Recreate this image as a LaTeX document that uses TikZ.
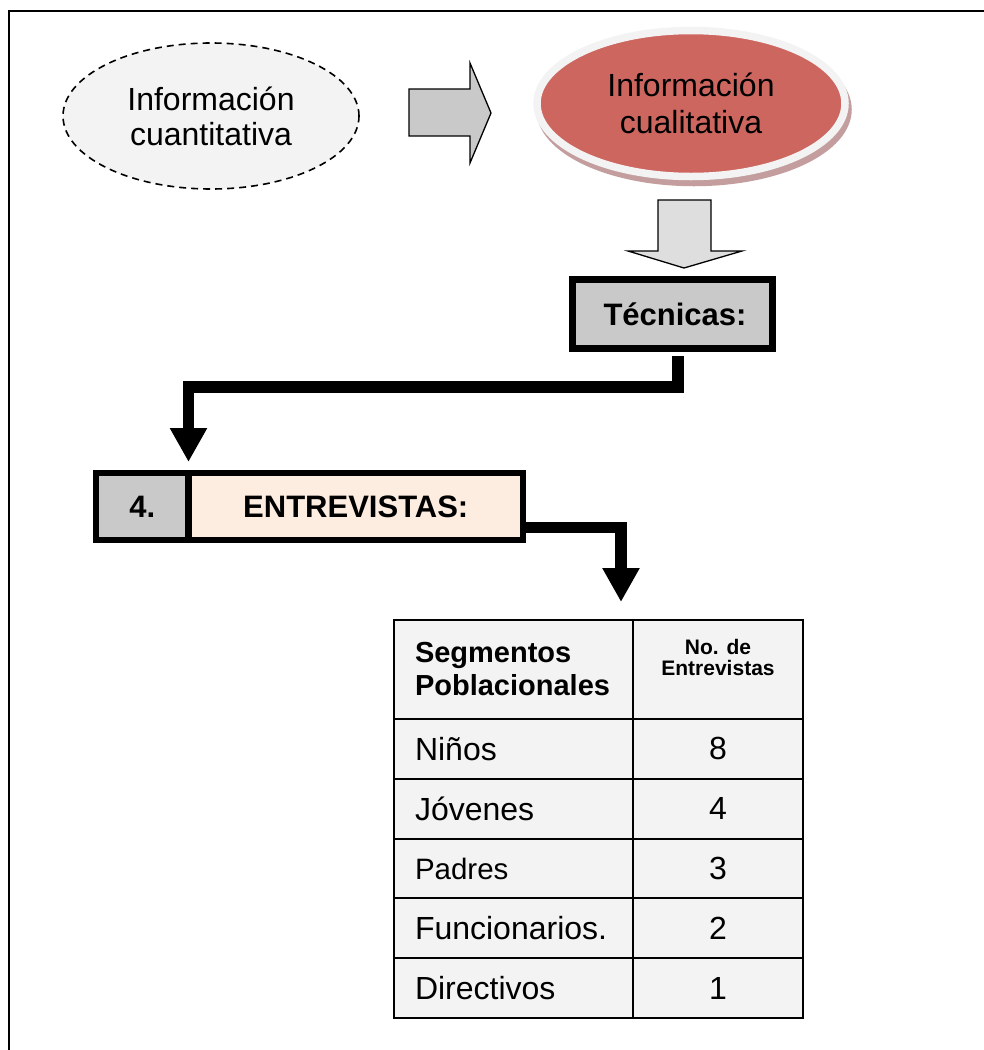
\documentclass[tikz,border=0pt]{standalone}
\usepackage{fontspec}
\setmainfont{Liberation Sans}
\usetikzlibrary{shapes.geometric}
\usetikzlibrary{arrows.meta}
\usetikzlibrary{shadows}
\usetikzlibrary{positioning}

\definecolor{cellgray}{RGB}{201,201,201}
\definecolor{peach}{RGB}{253,237,225}
\definecolor{rosa}{RGB}{205,102,95}
\definecolor{rosashadow}{RGB}{196,158,158}
\definecolor{pale}{RGB}{243,243,243}
\definecolor{arrowgray}{RGB}{222,222,222}

\begin{document}
\begin{tikzpicture}[x=1pt,y=-1pt, every node/.style={outer sep=0pt},
  techbox/.style={draw, line width=#1, inner sep=0pt},
  tcell/.style={draw, line width=2pt, fill=pale, inner sep=0pt},
  lcell/.style={tcell, minimum width=239pt, minimum height=59.8pt, text width=199pt, inner xsep=21pt, align=left},
  rcell/.style={tcell, minimum width=170pt, minimum height=59.8pt, align=center},
  conn/.style={line width=11.5pt, -{Triangle[width=35pt,length=34pt]}},
  blockarr/.style={draw, line width=1.3pt, line join=miter}]

\useasboundingbox (0,0) rectangle (984,1050);

% page frame
\draw [line width=2pt] (9,1050) -- (9,11) -- (984,11);

% kinds of information
\node (info_0) [ellipse, draw, line width=1.6pt, dash pattern=on 7pt off 5pt, fill=pale, minimum width=296pt, minimum height=146pt, inner sep=0pt, align=center, font=\fontsize{32}{35}\selectfont] at (211,116) {Información\\cuantitativa};
\node (info_1) [ellipse, draw=pale, line width=7.5pt, fill=rosa, minimum width=308pt, minimum height=146pt, inner sep=0pt, align=center, font=\fontsize{32}{37}\selectfont,
  drop shadow={shadow xshift=3pt, shadow yshift=-6pt, fill=rosashadow, draw=rosashadow, line width=7.5pt, opacity=1}] at (691,103.5) {Información\\cualitativa};

% block arrows
\draw [blockarr, fill=cellgray] (409,89) -- (470,89) -- (470,63) -- (491,113) -- (470,163) -- (470,136) -- (409,136) -- cycle;
\draw [blockarr, fill=arrowgray] (658,200) -- (711,200) -- (711,251) -- (742,251) -- (684,268) -- (628,251) -- (658,251) -- cycle;

% techniques
\node (tec) [techbox=7pt, fill=cellgray, minimum width=200pt, minimum height=69pt, font=\bfseries\fontsize{31}{35}\selectfont] at (672.5,314) {\hspace{5pt}Técnicas:};

% interviews
\node (num) [techbox=6.5pt, fill=cellgray, minimum width=92.5pt, minimum height=67pt, font=\bfseries\fontsize{31}{35}\selectfont] at (142.25,506.5) {4.};
\node (ent) [techbox=6.5pt, fill=peach, minimum width=334.5pt, minimum height=67pt, font=\bfseries\fontsize{31}{35}\selectfont, right=0pt of num] {ENTREVISTAS:};

% table
\node (seg) [tcell, anchor=north west, minimum width=239pt, minimum height=99pt, text width=197pt, inner xsep=21pt, align=left, font=\bfseries\fontsize{29}{33}\selectfont] at (394,620) {Segmentos\\Poblacionales};
\node (nro) [tcell, minimum width=170pt, minimum height=99pt, right=0pt of seg] {};
\node (nro_txt) [align=center, font=\bfseries\fontsize{21}{21}\selectfont] at ([yshift=12.5pt]nro.center) {No. de\\Entrevistas};

\foreach \txt/\val/\sz [count=\i] in {Niños/8/32, Jóvenes/4/32, Padres/3/29.5, Funcionarios./2/32, Directivos/1/32}{
  \pgfmathsetmacro\yy{719+(\i-1)*59.8}
  \node (seg_\i) [lcell, text width=197pt, anchor=north west, font=\fontsize{\sz}{\sz}\selectfont] at (394,\yy) {\txt};
  \node (nro_\i) [rcell, right=0pt of seg_\i, font=\fontsize{32}{32}\selectfont] {\val};
}

% connectors
\coordinate (k_0) at (678,387);
\draw [conn] ([xshift=5.5pt,yshift=-7.5pt]tec.south) -- (k_0) -| ([yshift=11pt]num.north east);
\coordinate (k_1) at (621,527.5);
\draw [conn] ([yshift=-21pt]ent.east) -- (k_1) -- ([xshift=-12pt,yshift=18pt]seg.north east);

\end{tikzpicture}
\end{document}
